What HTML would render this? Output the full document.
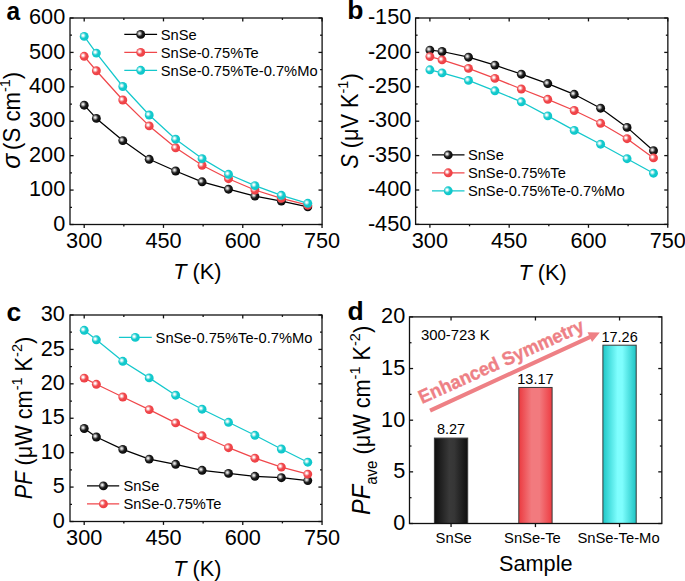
<!DOCTYPE html>
<html><head><meta charset="utf-8"><style>
html,body{margin:0;padding:0;background:#fff;}
body{width:685px;height:581px;overflow:hidden;}
svg{display:block;}
text{font-family:"Liberation Sans", sans-serif;fill:#000;}
</style></head><body>
<svg width="685" height="581" viewBox="0 0 685 581">
<defs><radialGradient id="gk" cx="0.38" cy="0.40" r="0.68" fx="0.37" fy="0.40"><stop offset="0" stop-color="#e8e8e8"/><stop offset="0.1" stop-color="#e8e8e8" stop-opacity="1"/><stop offset="0.48" stop-color="#202020"/><stop offset="1" stop-color="#000000"/></radialGradient><radialGradient id="gr" cx="0.38" cy="0.40" r="0.68" fx="0.37" fy="0.40"><stop offset="0" stop-color="#ffffff"/><stop offset="0.1" stop-color="#ffffff" stop-opacity="1"/><stop offset="0.48" stop-color="#f04a4e"/><stop offset="1" stop-color="#ee3b40"/></radialGradient><radialGradient id="gc" cx="0.38" cy="0.40" r="0.68" fx="0.37" fy="0.40"><stop offset="0" stop-color="#ffffff"/><stop offset="0.1" stop-color="#ffffff" stop-opacity="1"/><stop offset="0.48" stop-color="#16cacd"/><stop offset="1" stop-color="#0bc6ca"/></radialGradient><linearGradient id="bark" x1="0" y1="0" x2="1" y2="0"><stop offset="0" stop-color="#0e0e0e"/><stop offset="0.45" stop-color="#393939"/><stop offset="0.6" stop-color="#363636"/><stop offset="1" stop-color="#0e0e0e"/></linearGradient><linearGradient id="barr" x1="0" y1="0" x2="1" y2="0"><stop offset="0" stop-color="#ec3a40"/><stop offset="0.38" stop-color="#f27a7e"/><stop offset="0.62" stop-color="#f27a7e"/><stop offset="1" stop-color="#ee3c42"/></linearGradient><linearGradient id="barc" x1="0" y1="0" x2="1" y2="0"><stop offset="0" stop-color="#1ec8c8"/><stop offset="0.44" stop-color="#7ffefe"/><stop offset="0.58" stop-color="#7ffefe"/><stop offset="1" stop-color="#1ec4c4"/></linearGradient></defs>
<rect width="685" height="581" fill="#fff"/>
<rect x="70" y="18" width="252.1" height="206.5" fill="none" stroke="#111" stroke-width="1.3"/>
<line x1="84.2" y1="224.5" x2="84.2" y2="227.9" stroke="#111" stroke-width="1.3" stroke-linecap="butt"/>
<line x1="84.2" y1="18" x2="84.2" y2="21.4" stroke="#111" stroke-width="1.3" stroke-linecap="butt"/>
<text font-size="21.7" text-anchor="middle" transform="translate(84.2,247.8) scale(1,1)">300</text>
<line x1="163.48" y1="224.5" x2="163.48" y2="227.9" stroke="#111" stroke-width="1.3" stroke-linecap="butt"/>
<line x1="163.48" y1="18" x2="163.48" y2="21.4" stroke="#111" stroke-width="1.3" stroke-linecap="butt"/>
<text font-size="21.7" text-anchor="middle" transform="translate(163.48,247.8) scale(1,1)">450</text>
<line x1="242.77" y1="224.5" x2="242.77" y2="227.9" stroke="#111" stroke-width="1.3" stroke-linecap="butt"/>
<line x1="242.77" y1="18" x2="242.77" y2="21.4" stroke="#111" stroke-width="1.3" stroke-linecap="butt"/>
<text font-size="21.7" text-anchor="middle" transform="translate(242.77,247.8) scale(1,1)">600</text>
<line x1="322.05" y1="224.5" x2="322.05" y2="227.9" stroke="#111" stroke-width="1.3" stroke-linecap="butt"/>
<line x1="322.05" y1="18" x2="322.05" y2="21.4" stroke="#111" stroke-width="1.3" stroke-linecap="butt"/>
<text font-size="21.7" text-anchor="middle" transform="translate(322.05,247.8) scale(1,1)">750</text>
<line x1="123.84" y1="224.5" x2="123.84" y2="226.4" stroke="#111" stroke-width="1.3" stroke-linecap="butt"/>
<line x1="123.84" y1="18" x2="123.84" y2="19.9" stroke="#111" stroke-width="1.3" stroke-linecap="butt"/>
<line x1="203.13" y1="224.5" x2="203.13" y2="226.4" stroke="#111" stroke-width="1.3" stroke-linecap="butt"/>
<line x1="203.13" y1="18" x2="203.13" y2="19.9" stroke="#111" stroke-width="1.3" stroke-linecap="butt"/>
<line x1="282.41" y1="224.5" x2="282.41" y2="226.4" stroke="#111" stroke-width="1.3" stroke-linecap="butt"/>
<line x1="282.41" y1="18" x2="282.41" y2="19.9" stroke="#111" stroke-width="1.3" stroke-linecap="butt"/>
<line x1="70" y1="224.5" x2="73.6" y2="224.5" stroke="#111" stroke-width="1.3" stroke-linecap="butt"/>
<line x1="322.1" y1="224.5" x2="318.5" y2="224.5" stroke="#111" stroke-width="1.3" stroke-linecap="butt"/>
<text font-size="21.7" text-anchor="end" transform="translate(65.2,230.7) scale(1,1)">0</text>
<line x1="70" y1="207.29" x2="72" y2="207.29" stroke="#111" stroke-width="1.3" stroke-linecap="butt"/>
<line x1="322.1" y1="207.29" x2="320.1" y2="207.29" stroke="#111" stroke-width="1.3" stroke-linecap="butt"/>
<line x1="70" y1="190.08" x2="73.6" y2="190.08" stroke="#111" stroke-width="1.3" stroke-linecap="butt"/>
<line x1="322.1" y1="190.08" x2="318.5" y2="190.08" stroke="#111" stroke-width="1.3" stroke-linecap="butt"/>
<text font-size="21.7" text-anchor="end" transform="translate(65.2,196.28) scale(1,1)">100</text>
<line x1="70" y1="172.88" x2="72" y2="172.88" stroke="#111" stroke-width="1.3" stroke-linecap="butt"/>
<line x1="322.1" y1="172.88" x2="320.1" y2="172.88" stroke="#111" stroke-width="1.3" stroke-linecap="butt"/>
<line x1="70" y1="155.67" x2="73.6" y2="155.67" stroke="#111" stroke-width="1.3" stroke-linecap="butt"/>
<line x1="322.1" y1="155.67" x2="318.5" y2="155.67" stroke="#111" stroke-width="1.3" stroke-linecap="butt"/>
<text font-size="21.7" text-anchor="end" transform="translate(65.2,161.87) scale(1,1)">200</text>
<line x1="70" y1="138.46" x2="72" y2="138.46" stroke="#111" stroke-width="1.3" stroke-linecap="butt"/>
<line x1="322.1" y1="138.46" x2="320.1" y2="138.46" stroke="#111" stroke-width="1.3" stroke-linecap="butt"/>
<line x1="70" y1="121.25" x2="73.6" y2="121.25" stroke="#111" stroke-width="1.3" stroke-linecap="butt"/>
<line x1="322.1" y1="121.25" x2="318.5" y2="121.25" stroke="#111" stroke-width="1.3" stroke-linecap="butt"/>
<text font-size="21.7" text-anchor="end" transform="translate(65.2,127.45) scale(1,1)">300</text>
<line x1="70" y1="104.04" x2="72" y2="104.04" stroke="#111" stroke-width="1.3" stroke-linecap="butt"/>
<line x1="322.1" y1="104.04" x2="320.1" y2="104.04" stroke="#111" stroke-width="1.3" stroke-linecap="butt"/>
<line x1="70" y1="86.83" x2="73.6" y2="86.83" stroke="#111" stroke-width="1.3" stroke-linecap="butt"/>
<line x1="322.1" y1="86.83" x2="318.5" y2="86.83" stroke="#111" stroke-width="1.3" stroke-linecap="butt"/>
<text font-size="21.7" text-anchor="end" transform="translate(65.2,93.03) scale(1,1)">400</text>
<line x1="70" y1="69.62" x2="72" y2="69.62" stroke="#111" stroke-width="1.3" stroke-linecap="butt"/>
<line x1="322.1" y1="69.62" x2="320.1" y2="69.62" stroke="#111" stroke-width="1.3" stroke-linecap="butt"/>
<line x1="70" y1="52.42" x2="73.6" y2="52.42" stroke="#111" stroke-width="1.3" stroke-linecap="butt"/>
<line x1="322.1" y1="52.42" x2="318.5" y2="52.42" stroke="#111" stroke-width="1.3" stroke-linecap="butt"/>
<text font-size="21.7" text-anchor="end" transform="translate(65.2,58.62) scale(1,1)">500</text>
<line x1="70" y1="35.21" x2="72" y2="35.21" stroke="#111" stroke-width="1.3" stroke-linecap="butt"/>
<line x1="322.1" y1="35.21" x2="320.1" y2="35.21" stroke="#111" stroke-width="1.3" stroke-linecap="butt"/>
<line x1="70" y1="18" x2="73.6" y2="18" stroke="#111" stroke-width="1.3" stroke-linecap="butt"/>
<line x1="322.1" y1="18" x2="318.5" y2="18" stroke="#111" stroke-width="1.3" stroke-linecap="butt"/>
<text font-size="21.7" text-anchor="end" transform="translate(65.2,24.2) scale(1,1)">600</text>
<path d="M84.2,105.2 L96.36,118.4 L122.78,140.6 L149.21,159.3 L175.64,171 L202.07,181.8 L228.5,189.2 L254.92,196.1 L281.35,201.1 L307.78,206.8" fill="none" stroke="#000000" stroke-width="1.25" stroke-linejoin="round"/>
<path d="M84.2,56.3 L96.36,70.75 L122.78,100 L149.21,125.9 L175.64,147.8 L202.07,165.3 L228.5,178.7 L254.92,190 L281.35,198.3 L307.78,205.2" fill="none" stroke="#f0474b" stroke-width="1.25" stroke-linejoin="round"/>
<path d="M84.2,36.4 L96.36,53.1 L122.78,86.5 L149.21,115 L175.64,139.2 L202.07,158.6 L228.5,174.3 L254.92,185.6 L281.35,195.3 L307.78,203.3" fill="none" stroke="#14c8cc" stroke-width="1.25" stroke-linejoin="round"/>
<circle cx="84.2" cy="105.2" r="4.45" fill="url(#gk)"/>
<circle cx="96.36" cy="118.4" r="4.45" fill="url(#gk)"/>
<circle cx="122.78" cy="140.6" r="4.45" fill="url(#gk)"/>
<circle cx="149.21" cy="159.3" r="4.45" fill="url(#gk)"/>
<circle cx="175.64" cy="171" r="4.45" fill="url(#gk)"/>
<circle cx="202.07" cy="181.8" r="4.45" fill="url(#gk)"/>
<circle cx="228.5" cy="189.2" r="4.45" fill="url(#gk)"/>
<circle cx="254.92" cy="196.1" r="4.45" fill="url(#gk)"/>
<circle cx="281.35" cy="201.1" r="4.45" fill="url(#gk)"/>
<circle cx="307.78" cy="206.8" r="4.45" fill="url(#gk)"/>
<circle cx="84.2" cy="56.3" r="4.45" fill="url(#gr)"/>
<circle cx="96.36" cy="70.75" r="4.45" fill="url(#gr)"/>
<circle cx="122.78" cy="100" r="4.45" fill="url(#gr)"/>
<circle cx="149.21" cy="125.9" r="4.45" fill="url(#gr)"/>
<circle cx="175.64" cy="147.8" r="4.45" fill="url(#gr)"/>
<circle cx="202.07" cy="165.3" r="4.45" fill="url(#gr)"/>
<circle cx="228.5" cy="178.7" r="4.45" fill="url(#gr)"/>
<circle cx="254.92" cy="190" r="4.45" fill="url(#gr)"/>
<circle cx="281.35" cy="198.3" r="4.45" fill="url(#gr)"/>
<circle cx="307.78" cy="205.2" r="4.45" fill="url(#gr)"/>
<circle cx="84.2" cy="36.4" r="4.45" fill="url(#gc)"/>
<circle cx="96.36" cy="53.1" r="4.45" fill="url(#gc)"/>
<circle cx="122.78" cy="86.5" r="4.45" fill="url(#gc)"/>
<circle cx="149.21" cy="115" r="4.45" fill="url(#gc)"/>
<circle cx="175.64" cy="139.2" r="4.45" fill="url(#gc)"/>
<circle cx="202.07" cy="158.6" r="4.45" fill="url(#gc)"/>
<circle cx="228.5" cy="174.3" r="4.45" fill="url(#gc)"/>
<circle cx="254.92" cy="185.6" r="4.45" fill="url(#gc)"/>
<circle cx="281.35" cy="195.3" r="4.45" fill="url(#gc)"/>
<circle cx="307.78" cy="203.3" r="4.45" fill="url(#gc)"/>
<line x1="124.3" y1="34.4" x2="157.1" y2="34.4" stroke="#000000" stroke-width="1.25" stroke-linecap="butt"/>
<circle cx="140.7" cy="34.4" r="4.45" fill="url(#gk)"/>
<text font-size="14.7" text-anchor="start" transform="translate(160.8,39.6) scale(1,1)">SnSe</text>
<line x1="124.3" y1="52.4" x2="157.1" y2="52.4" stroke="#f0474b" stroke-width="1.25" stroke-linecap="butt"/>
<circle cx="140.7" cy="52.4" r="4.45" fill="url(#gr)"/>
<text font-size="14.7" text-anchor="start" transform="translate(160.8,57.6) scale(1,1)">SnSe-0.75%Te</text>
<line x1="124.3" y1="70.3" x2="157.1" y2="70.3" stroke="#14c8cc" stroke-width="1.25" stroke-linecap="butt"/>
<circle cx="140.7" cy="70.3" r="4.45" fill="url(#gc)"/>
<text font-size="14.7" text-anchor="start" transform="translate(160.8,75.5) scale(1,1)">SnSe-0.75%Te-0.7%Mo</text>
<rect x="415.6" y="18" width="252.25" height="206.4" fill="none" stroke="#111" stroke-width="1.3"/>
<line x1="429.9" y1="224.4" x2="429.9" y2="227.8" stroke="#111" stroke-width="1.3" stroke-linecap="butt"/>
<line x1="429.9" y1="18" x2="429.9" y2="21.4" stroke="#111" stroke-width="1.3" stroke-linecap="butt"/>
<text font-size="21.7" text-anchor="middle" transform="translate(429.9,247.7) scale(1,1)">300</text>
<line x1="509.18" y1="224.4" x2="509.18" y2="227.8" stroke="#111" stroke-width="1.3" stroke-linecap="butt"/>
<line x1="509.18" y1="18" x2="509.18" y2="21.4" stroke="#111" stroke-width="1.3" stroke-linecap="butt"/>
<text font-size="21.7" text-anchor="middle" transform="translate(509.18,247.7) scale(1,1)">450</text>
<line x1="588.47" y1="224.4" x2="588.47" y2="227.8" stroke="#111" stroke-width="1.3" stroke-linecap="butt"/>
<line x1="588.47" y1="18" x2="588.47" y2="21.4" stroke="#111" stroke-width="1.3" stroke-linecap="butt"/>
<text font-size="21.7" text-anchor="middle" transform="translate(588.47,247.7) scale(1,1)">600</text>
<line x1="667.75" y1="224.4" x2="667.75" y2="227.8" stroke="#111" stroke-width="1.3" stroke-linecap="butt"/>
<line x1="667.75" y1="18" x2="667.75" y2="21.4" stroke="#111" stroke-width="1.3" stroke-linecap="butt"/>
<text font-size="21.7" text-anchor="middle" transform="translate(667.75,247.7) scale(1,1)">750</text>
<line x1="469.54" y1="224.4" x2="469.54" y2="226.3" stroke="#111" stroke-width="1.3" stroke-linecap="butt"/>
<line x1="469.54" y1="18" x2="469.54" y2="19.9" stroke="#111" stroke-width="1.3" stroke-linecap="butt"/>
<line x1="548.83" y1="224.4" x2="548.83" y2="226.3" stroke="#111" stroke-width="1.3" stroke-linecap="butt"/>
<line x1="548.83" y1="18" x2="548.83" y2="19.9" stroke="#111" stroke-width="1.3" stroke-linecap="butt"/>
<line x1="628.11" y1="224.4" x2="628.11" y2="226.3" stroke="#111" stroke-width="1.3" stroke-linecap="butt"/>
<line x1="628.11" y1="18" x2="628.11" y2="19.9" stroke="#111" stroke-width="1.3" stroke-linecap="butt"/>
<line x1="415.6" y1="224.4" x2="419.2" y2="224.4" stroke="#111" stroke-width="1.3" stroke-linecap="butt"/>
<line x1="667.85" y1="224.4" x2="664.25" y2="224.4" stroke="#111" stroke-width="1.3" stroke-linecap="butt"/>
<text font-size="21.7" text-anchor="end" transform="translate(411.3,230.6) scale(1,1)">-450</text>
<line x1="415.6" y1="207.2" x2="417.6" y2="207.2" stroke="#111" stroke-width="1.3" stroke-linecap="butt"/>
<line x1="667.85" y1="207.2" x2="665.85" y2="207.2" stroke="#111" stroke-width="1.3" stroke-linecap="butt"/>
<line x1="415.6" y1="190" x2="419.2" y2="190" stroke="#111" stroke-width="1.3" stroke-linecap="butt"/>
<line x1="667.85" y1="190" x2="664.25" y2="190" stroke="#111" stroke-width="1.3" stroke-linecap="butt"/>
<text font-size="21.7" text-anchor="end" transform="translate(411.3,196.2) scale(1,1)">-400</text>
<line x1="415.6" y1="172.8" x2="417.6" y2="172.8" stroke="#111" stroke-width="1.3" stroke-linecap="butt"/>
<line x1="667.85" y1="172.8" x2="665.85" y2="172.8" stroke="#111" stroke-width="1.3" stroke-linecap="butt"/>
<line x1="415.6" y1="155.6" x2="419.2" y2="155.6" stroke="#111" stroke-width="1.3" stroke-linecap="butt"/>
<line x1="667.85" y1="155.6" x2="664.25" y2="155.6" stroke="#111" stroke-width="1.3" stroke-linecap="butt"/>
<text font-size="21.7" text-anchor="end" transform="translate(411.3,161.8) scale(1,1)">-350</text>
<line x1="415.6" y1="138.4" x2="417.6" y2="138.4" stroke="#111" stroke-width="1.3" stroke-linecap="butt"/>
<line x1="667.85" y1="138.4" x2="665.85" y2="138.4" stroke="#111" stroke-width="1.3" stroke-linecap="butt"/>
<line x1="415.6" y1="121.2" x2="419.2" y2="121.2" stroke="#111" stroke-width="1.3" stroke-linecap="butt"/>
<line x1="667.85" y1="121.2" x2="664.25" y2="121.2" stroke="#111" stroke-width="1.3" stroke-linecap="butt"/>
<text font-size="21.7" text-anchor="end" transform="translate(411.3,127.4) scale(1,1)">-300</text>
<line x1="415.6" y1="104" x2="417.6" y2="104" stroke="#111" stroke-width="1.3" stroke-linecap="butt"/>
<line x1="667.85" y1="104" x2="665.85" y2="104" stroke="#111" stroke-width="1.3" stroke-linecap="butt"/>
<line x1="415.6" y1="86.8" x2="419.2" y2="86.8" stroke="#111" stroke-width="1.3" stroke-linecap="butt"/>
<line x1="667.85" y1="86.8" x2="664.25" y2="86.8" stroke="#111" stroke-width="1.3" stroke-linecap="butt"/>
<text font-size="21.7" text-anchor="end" transform="translate(411.3,93) scale(1,1)">-250</text>
<line x1="415.6" y1="69.6" x2="417.6" y2="69.6" stroke="#111" stroke-width="1.3" stroke-linecap="butt"/>
<line x1="667.85" y1="69.6" x2="665.85" y2="69.6" stroke="#111" stroke-width="1.3" stroke-linecap="butt"/>
<line x1="415.6" y1="52.4" x2="419.2" y2="52.4" stroke="#111" stroke-width="1.3" stroke-linecap="butt"/>
<line x1="667.85" y1="52.4" x2="664.25" y2="52.4" stroke="#111" stroke-width="1.3" stroke-linecap="butt"/>
<text font-size="21.7" text-anchor="end" transform="translate(411.3,58.6) scale(1,1)">-200</text>
<line x1="415.6" y1="35.2" x2="417.6" y2="35.2" stroke="#111" stroke-width="1.3" stroke-linecap="butt"/>
<line x1="667.85" y1="35.2" x2="665.85" y2="35.2" stroke="#111" stroke-width="1.3" stroke-linecap="butt"/>
<line x1="415.6" y1="18" x2="419.2" y2="18" stroke="#111" stroke-width="1.3" stroke-linecap="butt"/>
<line x1="667.85" y1="18" x2="664.25" y2="18" stroke="#111" stroke-width="1.3" stroke-linecap="butt"/>
<text font-size="21.7" text-anchor="end" transform="translate(411.3,24.2) scale(1,1)">-150</text>
<path d="M429.9,50.1 L442.06,51.5 L468.48,57.2 L494.91,65.1 L521.34,74.2 L547.77,83.55 L574.2,94.3 L600.62,108.2 L627.05,127.4 L653.48,150.7" fill="none" stroke="#000000" stroke-width="1.25" stroke-linejoin="round"/>
<path d="M429.9,56.6 L442.06,59.9 L468.48,68.4 L494.91,78.4 L521.34,89 L547.77,99.3 L574.2,110.5 L600.62,123.3 L627.05,138.7 L653.48,157.9" fill="none" stroke="#f0474b" stroke-width="1.25" stroke-linejoin="round"/>
<path d="M429.9,69.8 L442.06,72.9 L468.48,80.4 L494.91,90.8 L521.34,101.8 L547.77,115.9 L574.2,130.4 L600.62,144.2 L627.05,158.7 L653.48,173.2" fill="none" stroke="#14c8cc" stroke-width="1.25" stroke-linejoin="round"/>
<circle cx="429.9" cy="50.1" r="4.45" fill="url(#gk)"/>
<circle cx="442.06" cy="51.5" r="4.45" fill="url(#gk)"/>
<circle cx="468.48" cy="57.2" r="4.45" fill="url(#gk)"/>
<circle cx="494.91" cy="65.1" r="4.45" fill="url(#gk)"/>
<circle cx="521.34" cy="74.2" r="4.45" fill="url(#gk)"/>
<circle cx="547.77" cy="83.55" r="4.45" fill="url(#gk)"/>
<circle cx="574.2" cy="94.3" r="4.45" fill="url(#gk)"/>
<circle cx="600.62" cy="108.2" r="4.45" fill="url(#gk)"/>
<circle cx="627.05" cy="127.4" r="4.45" fill="url(#gk)"/>
<circle cx="653.48" cy="150.7" r="4.45" fill="url(#gk)"/>
<circle cx="429.9" cy="56.6" r="4.45" fill="url(#gr)"/>
<circle cx="442.06" cy="59.9" r="4.45" fill="url(#gr)"/>
<circle cx="468.48" cy="68.4" r="4.45" fill="url(#gr)"/>
<circle cx="494.91" cy="78.4" r="4.45" fill="url(#gr)"/>
<circle cx="521.34" cy="89" r="4.45" fill="url(#gr)"/>
<circle cx="547.77" cy="99.3" r="4.45" fill="url(#gr)"/>
<circle cx="574.2" cy="110.5" r="4.45" fill="url(#gr)"/>
<circle cx="600.62" cy="123.3" r="4.45" fill="url(#gr)"/>
<circle cx="627.05" cy="138.7" r="4.45" fill="url(#gr)"/>
<circle cx="653.48" cy="157.9" r="4.45" fill="url(#gr)"/>
<circle cx="429.9" cy="69.8" r="4.45" fill="url(#gc)"/>
<circle cx="442.06" cy="72.9" r="4.45" fill="url(#gc)"/>
<circle cx="468.48" cy="80.4" r="4.45" fill="url(#gc)"/>
<circle cx="494.91" cy="90.8" r="4.45" fill="url(#gc)"/>
<circle cx="521.34" cy="101.8" r="4.45" fill="url(#gc)"/>
<circle cx="547.77" cy="115.9" r="4.45" fill="url(#gc)"/>
<circle cx="574.2" cy="130.4" r="4.45" fill="url(#gc)"/>
<circle cx="600.62" cy="144.2" r="4.45" fill="url(#gc)"/>
<circle cx="627.05" cy="158.7" r="4.45" fill="url(#gc)"/>
<circle cx="653.48" cy="173.2" r="4.45" fill="url(#gc)"/>
<line x1="432" y1="154.9" x2="464.5" y2="154.9" stroke="#000000" stroke-width="1.25" stroke-linecap="butt"/>
<circle cx="448.2" cy="154.9" r="4.45" fill="url(#gk)"/>
<text font-size="14.7" text-anchor="start" transform="translate(467.9,160.1) scale(1,1)">SnSe</text>
<line x1="432" y1="172.8" x2="464.5" y2="172.8" stroke="#f0474b" stroke-width="1.25" stroke-linecap="butt"/>
<circle cx="448.2" cy="172.8" r="4.45" fill="url(#gr)"/>
<text font-size="14.7" text-anchor="start" transform="translate(467.9,178) scale(1,1)">SnSe-0.75%Te</text>
<line x1="432" y1="190.8" x2="464.5" y2="190.8" stroke="#14c8cc" stroke-width="1.25" stroke-linecap="butt"/>
<circle cx="448.2" cy="190.8" r="4.45" fill="url(#gc)"/>
<text font-size="14.7" text-anchor="start" transform="translate(467.9,196) scale(1,1)">SnSe-0.75%Te-0.7%Mo</text>
<rect x="70" y="315" width="252" height="206.5" fill="none" stroke="#111" stroke-width="1.3"/>
<line x1="84.2" y1="521.5" x2="84.2" y2="524.9" stroke="#111" stroke-width="1.3" stroke-linecap="butt"/>
<line x1="84.2" y1="315" x2="84.2" y2="318.4" stroke="#111" stroke-width="1.3" stroke-linecap="butt"/>
<text font-size="21.7" text-anchor="middle" transform="translate(84.2,544.8) scale(1,1)">300</text>
<line x1="163.48" y1="521.5" x2="163.48" y2="524.9" stroke="#111" stroke-width="1.3" stroke-linecap="butt"/>
<line x1="163.48" y1="315" x2="163.48" y2="318.4" stroke="#111" stroke-width="1.3" stroke-linecap="butt"/>
<text font-size="21.7" text-anchor="middle" transform="translate(163.48,544.8) scale(1,1)">450</text>
<line x1="242.77" y1="521.5" x2="242.77" y2="524.9" stroke="#111" stroke-width="1.3" stroke-linecap="butt"/>
<line x1="242.77" y1="315" x2="242.77" y2="318.4" stroke="#111" stroke-width="1.3" stroke-linecap="butt"/>
<text font-size="21.7" text-anchor="middle" transform="translate(242.77,544.8) scale(1,1)">600</text>
<line x1="322.05" y1="521.5" x2="322.05" y2="524.9" stroke="#111" stroke-width="1.3" stroke-linecap="butt"/>
<line x1="322.05" y1="315" x2="322.05" y2="318.4" stroke="#111" stroke-width="1.3" stroke-linecap="butt"/>
<text font-size="21.7" text-anchor="middle" transform="translate(322.05,544.8) scale(1,1)">750</text>
<line x1="123.84" y1="521.5" x2="123.84" y2="523.4" stroke="#111" stroke-width="1.3" stroke-linecap="butt"/>
<line x1="123.84" y1="315" x2="123.84" y2="316.9" stroke="#111" stroke-width="1.3" stroke-linecap="butt"/>
<line x1="203.13" y1="521.5" x2="203.13" y2="523.4" stroke="#111" stroke-width="1.3" stroke-linecap="butt"/>
<line x1="203.13" y1="315" x2="203.13" y2="316.9" stroke="#111" stroke-width="1.3" stroke-linecap="butt"/>
<line x1="282.41" y1="521.5" x2="282.41" y2="523.4" stroke="#111" stroke-width="1.3" stroke-linecap="butt"/>
<line x1="282.41" y1="315" x2="282.41" y2="316.9" stroke="#111" stroke-width="1.3" stroke-linecap="butt"/>
<line x1="70" y1="521.5" x2="73.6" y2="521.5" stroke="#111" stroke-width="1.3" stroke-linecap="butt"/>
<line x1="322" y1="521.5" x2="318.4" y2="521.5" stroke="#111" stroke-width="1.3" stroke-linecap="butt"/>
<text font-size="21.7" text-anchor="end" transform="translate(64.8,527.7) scale(1,1)">0</text>
<line x1="70" y1="504.29" x2="72" y2="504.29" stroke="#111" stroke-width="1.3" stroke-linecap="butt"/>
<line x1="322" y1="504.29" x2="320" y2="504.29" stroke="#111" stroke-width="1.3" stroke-linecap="butt"/>
<line x1="70" y1="487.08" x2="73.6" y2="487.08" stroke="#111" stroke-width="1.3" stroke-linecap="butt"/>
<line x1="322" y1="487.08" x2="318.4" y2="487.08" stroke="#111" stroke-width="1.3" stroke-linecap="butt"/>
<text font-size="21.7" text-anchor="end" transform="translate(64.8,493.28) scale(1,1)">5</text>
<line x1="70" y1="469.88" x2="72" y2="469.88" stroke="#111" stroke-width="1.3" stroke-linecap="butt"/>
<line x1="322" y1="469.88" x2="320" y2="469.88" stroke="#111" stroke-width="1.3" stroke-linecap="butt"/>
<line x1="70" y1="452.67" x2="73.6" y2="452.67" stroke="#111" stroke-width="1.3" stroke-linecap="butt"/>
<line x1="322" y1="452.67" x2="318.4" y2="452.67" stroke="#111" stroke-width="1.3" stroke-linecap="butt"/>
<text font-size="21.7" text-anchor="end" transform="translate(64.8,458.87) scale(1,1)">10</text>
<line x1="70" y1="435.46" x2="72" y2="435.46" stroke="#111" stroke-width="1.3" stroke-linecap="butt"/>
<line x1="322" y1="435.46" x2="320" y2="435.46" stroke="#111" stroke-width="1.3" stroke-linecap="butt"/>
<line x1="70" y1="418.25" x2="73.6" y2="418.25" stroke="#111" stroke-width="1.3" stroke-linecap="butt"/>
<line x1="322" y1="418.25" x2="318.4" y2="418.25" stroke="#111" stroke-width="1.3" stroke-linecap="butt"/>
<text font-size="21.7" text-anchor="end" transform="translate(64.8,424.45) scale(1,1)">15</text>
<line x1="70" y1="401.04" x2="72" y2="401.04" stroke="#111" stroke-width="1.3" stroke-linecap="butt"/>
<line x1="322" y1="401.04" x2="320" y2="401.04" stroke="#111" stroke-width="1.3" stroke-linecap="butt"/>
<line x1="70" y1="383.83" x2="73.6" y2="383.83" stroke="#111" stroke-width="1.3" stroke-linecap="butt"/>
<line x1="322" y1="383.83" x2="318.4" y2="383.83" stroke="#111" stroke-width="1.3" stroke-linecap="butt"/>
<text font-size="21.7" text-anchor="end" transform="translate(64.8,390.03) scale(1,1)">20</text>
<line x1="70" y1="366.62" x2="72" y2="366.62" stroke="#111" stroke-width="1.3" stroke-linecap="butt"/>
<line x1="322" y1="366.62" x2="320" y2="366.62" stroke="#111" stroke-width="1.3" stroke-linecap="butt"/>
<line x1="70" y1="349.42" x2="73.6" y2="349.42" stroke="#111" stroke-width="1.3" stroke-linecap="butt"/>
<line x1="322" y1="349.42" x2="318.4" y2="349.42" stroke="#111" stroke-width="1.3" stroke-linecap="butt"/>
<text font-size="21.7" text-anchor="end" transform="translate(64.8,355.62) scale(1,1)">25</text>
<line x1="70" y1="332.21" x2="72" y2="332.21" stroke="#111" stroke-width="1.3" stroke-linecap="butt"/>
<line x1="322" y1="332.21" x2="320" y2="332.21" stroke="#111" stroke-width="1.3" stroke-linecap="butt"/>
<line x1="70" y1="315" x2="73.6" y2="315" stroke="#111" stroke-width="1.3" stroke-linecap="butt"/>
<line x1="322" y1="315" x2="318.4" y2="315" stroke="#111" stroke-width="1.3" stroke-linecap="butt"/>
<text font-size="21.7" text-anchor="end" transform="translate(64.8,321.2) scale(1,1)">30</text>
<path d="M84.2,428.5 L96.36,437 L122.78,449.4 L149.21,459.1 L175.64,464.3 L202.07,470.3 L228.5,473.4 L254.92,476.3 L281.35,477.7 L307.78,480.6" fill="none" stroke="#000000" stroke-width="1.25" stroke-linejoin="round"/>
<path d="M84.2,378.1 L96.36,384.3 L122.78,397 L149.21,409.6 L175.64,422.9 L202.07,435.8 L228.5,447.7 L254.92,458.2 L281.35,467.1 L307.78,474.1" fill="none" stroke="#f0474b" stroke-width="1.25" stroke-linejoin="round"/>
<path d="M84.2,330.3 L96.36,339.8 L122.78,361.3 L149.21,377.9 L175.64,395.2 L202.07,409.2 L228.5,422.3 L254.92,435.3 L281.35,449 L307.78,462.2" fill="none" stroke="#14c8cc" stroke-width="1.25" stroke-linejoin="round"/>
<circle cx="84.2" cy="428.5" r="4.45" fill="url(#gk)"/>
<circle cx="96.36" cy="437" r="4.45" fill="url(#gk)"/>
<circle cx="122.78" cy="449.4" r="4.45" fill="url(#gk)"/>
<circle cx="149.21" cy="459.1" r="4.45" fill="url(#gk)"/>
<circle cx="175.64" cy="464.3" r="4.45" fill="url(#gk)"/>
<circle cx="202.07" cy="470.3" r="4.45" fill="url(#gk)"/>
<circle cx="228.5" cy="473.4" r="4.45" fill="url(#gk)"/>
<circle cx="254.92" cy="476.3" r="4.45" fill="url(#gk)"/>
<circle cx="281.35" cy="477.7" r="4.45" fill="url(#gk)"/>
<circle cx="307.78" cy="480.6" r="4.45" fill="url(#gk)"/>
<circle cx="84.2" cy="378.1" r="4.45" fill="url(#gr)"/>
<circle cx="96.36" cy="384.3" r="4.45" fill="url(#gr)"/>
<circle cx="122.78" cy="397" r="4.45" fill="url(#gr)"/>
<circle cx="149.21" cy="409.6" r="4.45" fill="url(#gr)"/>
<circle cx="175.64" cy="422.9" r="4.45" fill="url(#gr)"/>
<circle cx="202.07" cy="435.8" r="4.45" fill="url(#gr)"/>
<circle cx="228.5" cy="447.7" r="4.45" fill="url(#gr)"/>
<circle cx="254.92" cy="458.2" r="4.45" fill="url(#gr)"/>
<circle cx="281.35" cy="467.1" r="4.45" fill="url(#gr)"/>
<circle cx="307.78" cy="474.1" r="4.45" fill="url(#gr)"/>
<circle cx="84.2" cy="330.3" r="4.45" fill="url(#gc)"/>
<circle cx="96.36" cy="339.8" r="4.45" fill="url(#gc)"/>
<circle cx="122.78" cy="361.3" r="4.45" fill="url(#gc)"/>
<circle cx="149.21" cy="377.9" r="4.45" fill="url(#gc)"/>
<circle cx="175.64" cy="395.2" r="4.45" fill="url(#gc)"/>
<circle cx="202.07" cy="409.2" r="4.45" fill="url(#gc)"/>
<circle cx="228.5" cy="422.3" r="4.45" fill="url(#gc)"/>
<circle cx="254.92" cy="435.3" r="4.45" fill="url(#gc)"/>
<circle cx="281.35" cy="449" r="4.45" fill="url(#gc)"/>
<circle cx="307.78" cy="462.2" r="4.45" fill="url(#gc)"/>
<line x1="118.9" y1="337.4" x2="151.8" y2="337.4" stroke="#14c8cc" stroke-width="1.25" stroke-linecap="butt"/>
<circle cx="135.3" cy="337.4" r="4.45" fill="url(#gc)"/>
<text font-size="14.7" text-anchor="start" transform="translate(155.6,342.6) scale(1,1)">SnSe-0.75%Te-0.7%Mo</text>
<line x1="87" y1="485.9" x2="119.2" y2="485.9" stroke="#000000" stroke-width="1.25" stroke-linecap="butt"/>
<circle cx="103.4" cy="485.9" r="4.45" fill="url(#gk)"/>
<text font-size="14.7" text-anchor="start" transform="translate(123.4,491.1) scale(1,1)">SnSe</text>
<line x1="87" y1="503.9" x2="119.2" y2="503.9" stroke="#f0474b" stroke-width="1.25" stroke-linecap="butt"/>
<circle cx="103.4" cy="503.9" r="4.45" fill="url(#gr)"/>
<text font-size="14.7" text-anchor="start" transform="translate(123.4,509.1) scale(1,1)">SnSe-0.75%Te</text>
<rect x="434.4" y="438.07" width="33.3" height="85.43" fill="url(#bark)" stroke="#3a3a3a" stroke-width="1"/>
<text font-size="14.5" text-anchor="middle" transform="translate(451.05,434.47) scale(1,1)">8.27</text>
<rect x="518.8" y="387.45" width="33.3" height="136.05" fill="url(#barr)" stroke="#3a3a3a" stroke-width="1"/>
<text font-size="14.5" text-anchor="middle" transform="translate(535.45,383.85) scale(1,1)">13.17</text>
<rect x="602.9" y="345.2" width="33.3" height="178.3" fill="url(#barc)" stroke="#3a3a3a" stroke-width="1"/>
<text font-size="14.5" text-anchor="middle" transform="translate(619.55,341.6) scale(1,1)">17.26</text>
<rect x="409.5" y="316.9" width="252.35" height="206.6" fill="none" stroke="#111" stroke-width="1.3"/>
<line x1="409.5" y1="523.5" x2="413.1" y2="523.5" stroke="#111" stroke-width="1.3" stroke-linecap="butt"/>
<line x1="661.85" y1="523.5" x2="658.25" y2="523.5" stroke="#111" stroke-width="1.3" stroke-linecap="butt"/>
<text font-size="21.7" text-anchor="end" transform="translate(405.2,529.8) scale(1,1)">0</text>
<line x1="409.5" y1="497.68" x2="411.5" y2="497.68" stroke="#111" stroke-width="1.3" stroke-linecap="butt"/>
<line x1="661.85" y1="497.68" x2="659.85" y2="497.68" stroke="#111" stroke-width="1.3" stroke-linecap="butt"/>
<line x1="409.5" y1="471.85" x2="413.1" y2="471.85" stroke="#111" stroke-width="1.3" stroke-linecap="butt"/>
<line x1="661.85" y1="471.85" x2="658.25" y2="471.85" stroke="#111" stroke-width="1.3" stroke-linecap="butt"/>
<text font-size="21.7" text-anchor="end" transform="translate(405.2,478.15) scale(1,1)">5</text>
<line x1="409.5" y1="446.02" x2="411.5" y2="446.02" stroke="#111" stroke-width="1.3" stroke-linecap="butt"/>
<line x1="661.85" y1="446.02" x2="659.85" y2="446.02" stroke="#111" stroke-width="1.3" stroke-linecap="butt"/>
<line x1="409.5" y1="420.2" x2="413.1" y2="420.2" stroke="#111" stroke-width="1.3" stroke-linecap="butt"/>
<line x1="661.85" y1="420.2" x2="658.25" y2="420.2" stroke="#111" stroke-width="1.3" stroke-linecap="butt"/>
<text font-size="21.7" text-anchor="end" transform="translate(405.2,426.5) scale(1,1)">10</text>
<line x1="409.5" y1="394.38" x2="411.5" y2="394.38" stroke="#111" stroke-width="1.3" stroke-linecap="butt"/>
<line x1="661.85" y1="394.38" x2="659.85" y2="394.38" stroke="#111" stroke-width="1.3" stroke-linecap="butt"/>
<line x1="409.5" y1="368.55" x2="413.1" y2="368.55" stroke="#111" stroke-width="1.3" stroke-linecap="butt"/>
<line x1="661.85" y1="368.55" x2="658.25" y2="368.55" stroke="#111" stroke-width="1.3" stroke-linecap="butt"/>
<text font-size="21.7" text-anchor="end" transform="translate(405.2,374.85) scale(1,1)">15</text>
<line x1="409.5" y1="342.72" x2="411.5" y2="342.72" stroke="#111" stroke-width="1.3" stroke-linecap="butt"/>
<line x1="661.85" y1="342.72" x2="659.85" y2="342.72" stroke="#111" stroke-width="1.3" stroke-linecap="butt"/>
<line x1="409.5" y1="316.9" x2="413.1" y2="316.9" stroke="#111" stroke-width="1.3" stroke-linecap="butt"/>
<line x1="661.85" y1="316.9" x2="658.25" y2="316.9" stroke="#111" stroke-width="1.3" stroke-linecap="butt"/>
<text font-size="21.7" text-anchor="end" transform="translate(405.2,323.2) scale(1,1)">20</text>
<line x1="451.05" y1="523.5" x2="451.05" y2="527.1" stroke="#111" stroke-width="1.3" stroke-linecap="butt"/>
<line x1="451.05" y1="316.9" x2="451.05" y2="320.5" stroke="#111" stroke-width="1.3" stroke-linecap="butt"/>
<text font-size="14.8" text-anchor="middle" transform="translate(453.7,543.3) scale(1,1)">SnSe</text>
<line x1="535.45" y1="523.5" x2="535.45" y2="527.1" stroke="#111" stroke-width="1.3" stroke-linecap="butt"/>
<line x1="535.45" y1="316.9" x2="535.45" y2="320.5" stroke="#111" stroke-width="1.3" stroke-linecap="butt"/>
<text font-size="14.8" text-anchor="middle" transform="translate(532.4,543.3) scale(1,1)">SnSe-Te</text>
<line x1="619.55" y1="523.5" x2="619.55" y2="527.1" stroke="#111" stroke-width="1.3" stroke-linecap="butt"/>
<line x1="619.55" y1="316.9" x2="619.55" y2="320.5" stroke="#111" stroke-width="1.3" stroke-linecap="butt"/>
<text font-size="14.8" text-anchor="middle" transform="translate(618.5,543.3) scale(1,1)">SnSe-Te-Mo</text>
<text font-size="14.9" text-anchor="start" transform="translate(420.9,339.5) scale(1,1)">300-723 K</text>
<polygon points="430.91,412.46 590.66,338.96 592.06,342 599.8,332.5 587.55,332.19 588.95,335.24 429.19,408.74" fill="#ee8085"/>
<text x="0" y="0" font-size="18.1" font-weight="bold" style="fill:#ee8085;stroke:#ee8085;stroke-width:0.35" transform="translate(422.1,403.9) rotate(-24.2) scale(1,1.05)">Enhanced Symmetry</text>
<text font-size="21.7" text-anchor="middle" transform="translate(197.4,278.9) scale(1,1)"><tspan font-style="italic">T</tspan> (K)</text>
<text font-size="21.7" text-anchor="middle" transform="translate(542.6,279.8) scale(1,1)"><tspan font-style="italic">T</tspan> (K)</text>
<text font-size="21.7" text-anchor="middle" transform="translate(197.4,576.1) scale(1,1)"><tspan font-style="italic">T</tspan> (K)</text>
<text font-size="21.7" text-anchor="middle" transform="translate(535.75,571.4) scale(1,1)">Sample</text>
<text x="0" y="0" font-size="22.2" text-anchor="middle" transform="translate(19.9,120.3) rotate(-90) scale(1,1.06)"><tspan font-style="italic" font-size="24.8">σ</tspan><tspan dx="-2.2"> (S cm</tspan><tspan font-size="14.5" dy="-9.3">-1</tspan><tspan dy="9.3">)</tspan></text>
<text x="0" y="0" font-size="21.7" text-anchor="middle" transform="translate(357.8,121) rotate(-90) scale(1,1.06)"><tspan font-style="italic">S</tspan> (μV K<tspan font-size="14.5" dy="-9.3">-1</tspan><tspan dy="9.3">)</tspan></text>
<text x="0" y="0" font-size="21.7" text-anchor="middle" transform="translate(32,418) rotate(-90) scale(1,1.06)"><tspan font-style="italic">PF</tspan> (μW cm<tspan font-size="14.5" dy="-9.3">-1</tspan><tspan dy="9.3"> K</tspan><tspan font-size="14.5" dy="-9.3">-2</tspan><tspan dy="9.3">)</tspan></text>
<text x="0" y="0" font-size="21.7" text-anchor="middle" transform="translate(370,420.4) rotate(-90) scale(1,1.06)"><tspan font-style="italic" font-size="23.6">PF</tspan><tspan font-size="15" dy="6.3">ave</tspan><tspan dy="-6.3"> (μW cm</tspan><tspan font-size="14.5" dy="-9.3">-1</tspan><tspan dy="9.3"> K</tspan><tspan font-size="14.5" dy="-9.3">-2</tspan><tspan dy="9.3">)</tspan></text>
<text font-size="24.5" text-anchor="start" font-weight="bold" transform="translate(6.5,20.1) scale(1,1.09)">a</text>
<text font-size="26.5" text-anchor="start" font-weight="bold" transform="translate(347.35,19.35) scale(1,1)">b</text>
<text font-size="26.5" text-anchor="start" font-weight="bold" transform="translate(6.45,320.75) scale(1,1)">c</text>
<text font-size="26.5" text-anchor="start" font-weight="bold" transform="translate(347.4,319.55) scale(1,1)">d</text>
</svg>
</body></html>
